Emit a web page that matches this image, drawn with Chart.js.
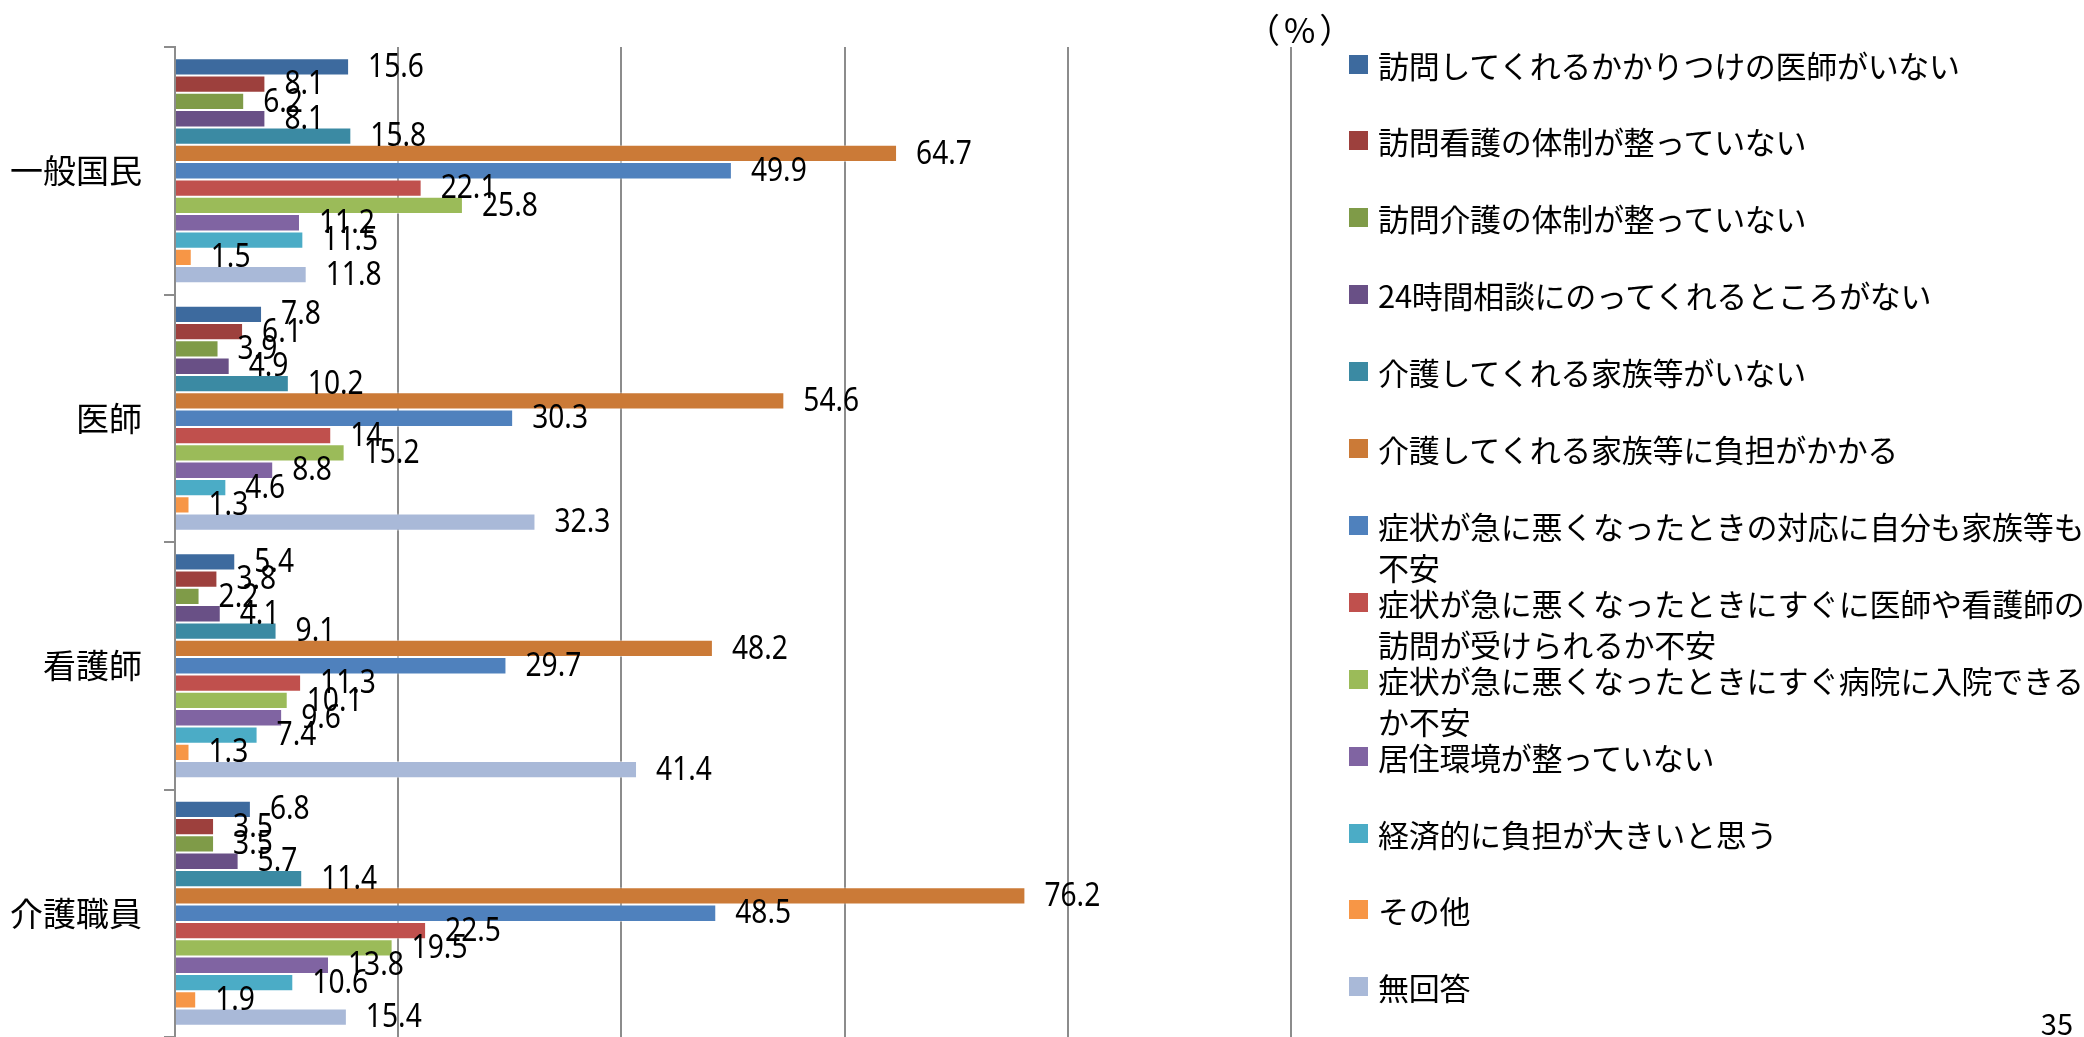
<!DOCTYPE html>
<html>
<head>
<meta charset="utf-8">
<script src="https://cdn.jsdelivr.net/npm/chart.js@4.4.1/dist/chart.umd.min.js"></script>
<style>
  html, body { margin: 0; padding: 0; background: #fff; }
  #wrap { position: relative; width: 2084px; height: 1037px; overflow: hidden; font-family: "Noto Sans CJK JP", sans-serif; color: #000; }
  #chart { position: absolute; left: 0; top: 0; }
  .unit { position: absolute; left: 1246px; top: 7px; font-size: 34px; line-height: 44px; letter-spacing: 4px; }
  .page { position: absolute; right: 11px; top: 1002px; font-size: 29px; line-height: 40px; }
  .lg { position: absolute; left: 1349px; font-size: 31px; line-height: 41px; white-space: nowrap; letter-spacing: -0.3px; }
  .lg i { position: absolute; left: 0; top: 11px; width: 19px; height: 19px; }
  .lg span { display: block; margin-left: 29px; }
</style>
</head>
<body>
<div id="wrap">
  <canvas id="chart" width="2084" height="1037"></canvas>
  <div class="unit">（%）</div>
  <div class="page">35</div>
  <div id="legend"></div>
</div>
<script>
var groups = ['一般国民', '医師', '看護師', '介護職員'];

var seriesNames = [
  '訪問してくれるかかりつけの医師がいない',
  '訪問看護の体制が整っていない',
  '訪問介護の体制が整っていない',
  '24時間相談にのってくれるところがない',
  '介護してくれる家族等がいない',
  '介護してくれる家族等に負担がかかる',
  '症状が急に悪くなったときの対応に自分も家族等も\n不安',
  '症状が急に悪くなったときにすぐに医師や看護師の\n訪問が受けられるか不安',
  '症状が急に悪くなったときにすぐ病院に入院できる\nか不安',
  '居住環境が整っていない',
  '経済的に負担が大きいと思う',
  'その他',
  '無回答'
];

var seriesColors = ['#3d6a9e', '#9d403d', '#7f9b48', '#695086', '#3b8aa3', '#cb7a37',
  '#4f81bd', '#c0504d', '#9bbb59', '#8064a2', '#4bacc6', '#f79646', '#a9b9d8'];

// values per group, in legend order
var ippan  = [15.6, 8.1, 6.2, 8.1, 15.8, 64.7, 49.9, 22.1, 25.8, 11.2, 11.5, 1.5, 11.8];
var ishi   = [7.8, 6.1, 3.9, 4.9, 10.2, 54.6, 30.3, 14, 15.2, 8.8, 4.6, 1.3, 32.3];
var kango  = [5.4, 3.8, 2.2, 4.1, 9.1, 48.2, 29.7, 11.3, 10.1, 9.6, 7.4, 1.3, 41.4];
var kaigo  = [6.8, 3.5, 3.5, 5.7, 11.4, 76.2, 48.5, 22.5, 19.5, 13.8, 10.6, 1.9, 15.4];

var xTicks = [0, 20, 40, 60, 80, 100];

var byGroup = [ippan, ishi, kango, kaigo];
var datasets = seriesNames.map(function(name, i) {
  return {
    label: name.replace('\n', ''),
    data: byGroup.map(function(g) { return g[i]; }),
    backgroundColor: seriesColors[i],
    borderColor: 'rgba(255,255,255,0.45)',
    borderWidth: 1
  };
});

// html legend, one row per series
var legend = document.getElementById('legend');
seriesNames.forEach(function(name, i) {
  var row = document.createElement('div');
  row.className = 'lg';
  row.style.top = Math.round(64 + i * 76.9 - 20.5) + 'px';
  var sw = document.createElement('i');
  sw.style.background = seriesColors[i];
  var txt = document.createElement('span');
  txt.innerHTML = name.replace('\n', '<br>');
  row.appendChild(sw);
  row.appendChild(txt);
  legend.appendChild(row);
});

var valueLabels = {
  id: 'valueLabels',
  afterDatasetsDraw: function(chart) {
    var ctx = chart.ctx;
    ctx.save();
    ctx.font = '32px "Noto Sans"';
    ctx.fillStyle = '#000';
    ctx.textBaseline = 'middle';
    chart.data.datasets.forEach(function(ds, i) {
      chart.getDatasetMeta(i).data.forEach(function(bar, j) {
        ctx.save();
        ctx.translate(bar.x + 19, bar.y + 1);
        ctx.scale(0.88, 1);
        ctx.fillText(String(ds.data[j]), 0, 0);
        ctx.restore();
      });
    });
    ctx.restore();
  }
};

new Chart(document.getElementById('chart'), {
  type: 'bar',
  data: { labels: groups, datasets: datasets },
  options: {
    indexAxis: 'y',
    responsive: false,
    animation: false,
    categoryPercentage: 0.91,
    barPercentage: 1.0,
    layout: { padding: { top: 47, right: 793, bottom: 0, left: 0 } },
    scales: {
      x: {
        min: 0, max: 100,
        afterBuildTicks: function(scale) {
          scale.ticks = xTicks.map(function(v) { return { value: v }; });
        },
        afterFit: function(scale) { scale.height = 0; },
        ticks: { display: false },
        grid: { color: '#8c8c8c', lineWidth: 2, drawTicks: false },
        border: { display: false }
      },
      y: {
        afterFit: function(scale) {
          scale.width = 175;
          scale.paddingTop = 0;
          scale.paddingBottom = 0;
        },
        ticks: {
          color: '#000',
          padding: 22,
          font: { family: '"Noto Sans CJK JP"', size: 33 }
        },
        grid: { drawOnChartArea: false, drawTicks: true, tickLength: 11, color: '#8c8c8c', lineWidth: 2 },
        border: { display: true, color: '#8c8c8c', width: 2 }
      }
    },
    plugins: { legend: { display: false }, tooltip: { enabled: false } }
  },
  plugins: [valueLabels]
});
</script>
</body>
</html>
